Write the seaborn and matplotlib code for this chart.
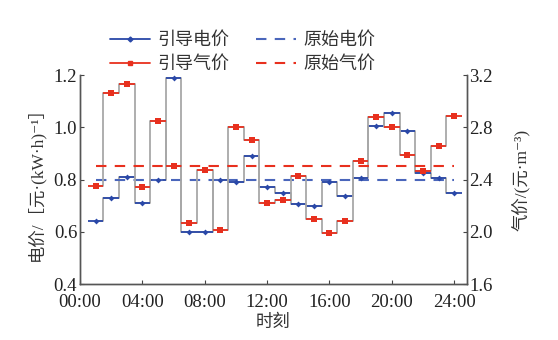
import matplotlib
matplotlib.use("Agg")
import matplotlib.pyplot as plt
import seaborn as sns
import pandas as pd
import numpy as np
from matplotlib.lines import Line2D

# hourly guided prices (hour 1..24)
hours = list(range(1, 25))
elec_guided = [0.64, 0.73, 0.81, 0.71, 0.80, 1.19, 0.60, 0.60, 0.80, 0.79,
               0.89, 0.77, 0.75, 0.705, 0.70, 0.79, 0.735, 0.805, 1.005, 1.055,
               0.985, 0.825, 0.805, 0.75]
gas_guided = [2.35, 3.06, 3.13, 2.34, 2.85, 2.50, 2.07, 2.47, 2.01, 2.80,
              2.70, 2.22, 2.24, 2.43, 2.10, 1.99, 2.08, 2.54, 2.88, 2.80,
              2.59, 2.465, 2.66, 2.885]
elec_orig = 0.80
gas_orig = 2.50

xtick_vals = [0, 4, 8, 12, 16, 20, 24]
xtick_labels = ["00:00", "04:00", "08:00", "12:00", "16:00", "20:00", "24:00"]
ytick_left = [0.4, 0.6, 0.8, 1.0, 1.2]
ytick_right = [1.6, 2.0, 2.4, 2.8, 3.2]

df = pd.DataFrame({"hour": hours, "elec": elec_guided, "gas": gas_guided,
                   "elec0": [elec_orig] * 24, "gas0": [gas_orig] * 24})

sns.set_theme(style="ticks")
FAM = ["Liberation Serif", "Noto Sans CJK SC", "DejaVu Serif"]
plt.rcParams["font.family"] = FAM
plt.rcParams["axes.unicode_minus"] = False

BLUE = "#2a48a8"
BLUE_D = "#4a66bb"
RED = "#e8301e"
RED_D = "#e8301e"
GRAY = "#a8a8a8"
TXT = "#333333"

fig = plt.figure(figsize=(5.58, 3.40), dpi=100)
ax = fig.add_axes([0.1434, 0.1647, 0.8364 - 0.1434, 0.7794 - 0.1647])
ax2 = ax.twinx()

# gray step connectors
sns.lineplot(data=df, x="hour", y="elec", ax=ax, color=GRAY, lw=1.3,
             drawstyle="steps-mid", legend=False, zorder=2)
sns.lineplot(data=df, x="hour", y="gas", ax=ax2, color=GRAY, lw=1.3,
             drawstyle="steps-mid", legend=False, zorder=2)

# coloured horizontal levels with markers
h = np.array(hours)
ax.hlines(df["elec"], h - 0.5, h + 0.5, color=BLUE, lw=1.3, zorder=3)
ax2.hlines(df["gas"], h - 0.5, h + 0.5, color=RED, lw=1.3, zorder=3)
sns.scatterplot(data=df, x="hour", y="elec", ax=ax, color=BLUE, marker="D",
                s=9, linewidth=0, zorder=4, legend=False)
sns.scatterplot(data=df, x="hour", y="gas", ax=ax2, color=RED, marker="s",
                s=16, linewidth=0, zorder=4, legend=False)

# original flat prices
sns.lineplot(data=df, x="hour", y="elec0", ax=ax, color=BLUE_D, lw=1.5,
             legend=False, zorder=3).lines[-1].set_dashes([5, 4])
sns.lineplot(data=df, x="hour", y="gas0", ax=ax2, color=RED_D, lw=1.5,
             legend=False, zorder=3).lines[-1].set_dashes([5, 4])

ax.set_xlim(0, 24.8)
ax.set_ylim(0.4, 1.2)
ax2.set_ylim(1.6, 3.2)
ax.set_xticks(xtick_vals)
ax.set_xticklabels(xtick_labels, family=FAM, fontsize=13.5)
ax.set_yticks(ytick_left)
ax.set_yticklabels([f"{v:.1f}" for v in ytick_left], family=FAM, fontsize=13.5)
ax2.set_yticks(ytick_right)
ax2.set_yticklabels([f"{v:.1f}" for v in ytick_right], family=FAM, fontsize=13.5)

for a in (ax, ax2):
    a.tick_params(direction="in", length=3, width=0.8,
                  colors="#444444", labelcolor="#222222", pad=2)
    for s in a.spines.values():
        s.set_color("#555555")
        s.set_linewidth(1.0)
ax.tick_params(axis="x", pad=7)
ax.spines["top"].set_visible(False)
ax2.spines["top"].set_visible(False)

ax.set_xlabel("时刻", fontsize=12.5, family=FAM, color=TXT, labelpad=3)
ax.set_ylabel("电价/［元·(kW·h)⁻¹］", fontsize=12.5, family=FAM,
              color=TXT, labelpad=6)
ax2.set_ylabel("气价/(元·m⁻³)", fontsize=12.5, family=FAM,
               color=TXT, labelpad=14, rotation=90)

handles = [
    Line2D([], [], color=BLUE, lw=1.3, marker="D", markersize=2.5),
    Line2D([], [], color=RED, lw=1.3, marker="s", markersize=3.5),
    Line2D([], [], color=BLUE_D, lw=1.5, ls=(0, (5, 4))),
    Line2D([], [], color=RED_D, lw=1.5, ls=(0, (5, 4))),
]
labels = ["引导电价", "引导气价", "原始电价", "原始气价"]
fig.legend(handles, labels, ncol=2, loc="center", bbox_to_anchor=(0.435, 0.845),
           frameon=False, prop={"family": FAM, "size": 13},
           handlelength=2.2, handletextpad=0.4, columnspacing=1.5,
           labelspacing=0.4, labelcolor=TXT)

fig.savefig("out.png", dpi=100)
